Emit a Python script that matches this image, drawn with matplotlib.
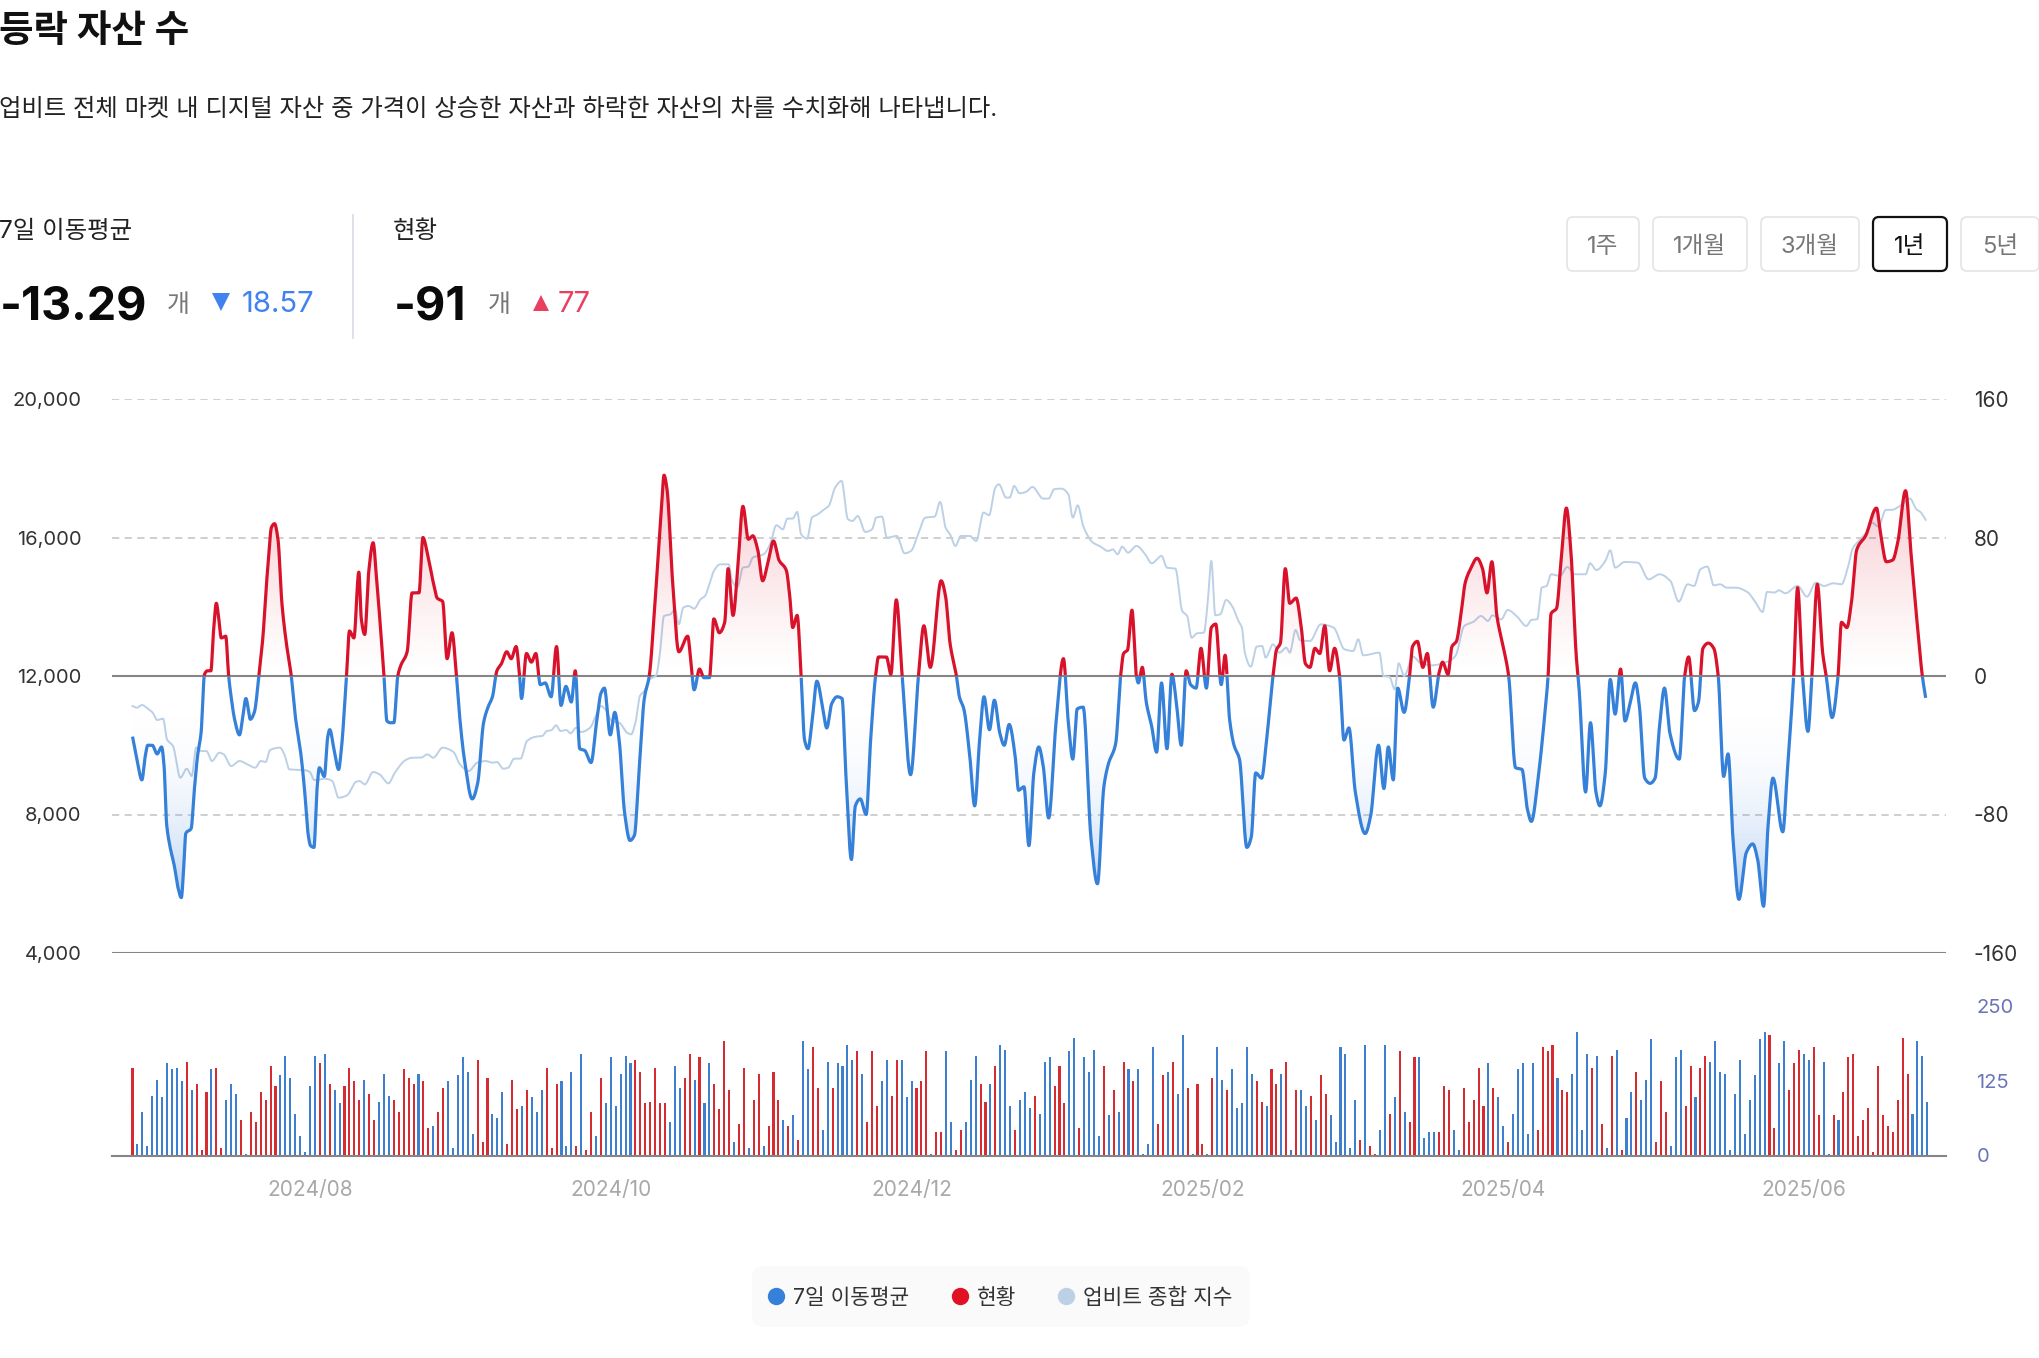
import numpy as np
import matplotlib
matplotlib.use('Agg')
import matplotlib.pyplot as plt
from matplotlib.patches import FancyBboxPatch

plt.rcParams['font.family'] = ['Inter', 'Noto Sans CJK KR', 'DejaVu Sans']
plt.rcParams['axes.unicode_minus'] = False

# daily value of the "현황" bars, sign decides the colour
daily_values = [
    147, -20, -73, -16, -100, -127, -97, -154, -144, -147, -124, 157, -110, 120, 10, 107, -144, 147, 13, -93,
    -120, -103, 60, -3, 73, 56, 107, 93, 150, 117, -134, -167, -130, -70, -33, -6, -117, -167, 154, -170,
    120, -110, -87, 117, 147, 124, 93, -127, 103, 60, -90, -137, -100, 93, 73, 144, 130, 120, -137, 124,
    46, -50, 73, 113, -124, -13, -134, -164, -140, -36, 160, 23, 130, -70, -63, -107, 20, 127, 77, -83,
    110, -97, -73, -110, 147, 13, 120, -124, -16, -140, 16, -170, 10, 73, -33, 130, -87, -164, -83, -137,
    -167, -154, 160, 140, 87, 90, 147, 87, 87, -56, -150, -113, 130, 170, -127, 164, -87, -154, 120, 77,
    191, 110, -23, 53, 147, -13, 93, 137, -16, 50, 140, 93,
    -60, 50, -67, 26, -191, -144, 181, 113, -43, -157, 113, -154, -150, -184, -160, 174, -137, 56, 174, 83,
    -124, -160, 100, 160, -160, -97, -124, 113, 124, 174, -3, 40, 40, -174, -56, 10, 43, -56, -127, -167,
    120, 90, -120, 150, -184, -177, -83, 43, -93, -107, -80, 100, -70, -157, -164, 117, 150, 87, -174, -197,
    46, -164, -140, -177, -33, 150, -67, 110, -73, 157, -144, 124, -144, -3, -20, -181, 53, 134, -140, 157,
    -103, -201, 113, -3, 120, 20, -3, 130, -181, -127, 110, -144, -80, -87, -181, -137, 124, 90, -83, 144,
    120, -137, 157, -10, 110, -110, -83, 100, -60, 134, 103, -67, -23, -181, -170, -13, -93, 26, -184, 16,
    3, -43, -184, 70, -97, 174, -73, 56, 164, -164, -30, -40, -40, 40, 117, 110,
    -43, -10, 113, 56, 93, 147, 83, -154, 113, -97, -50, 23, -70, -144, -154, -36, -154, 43, 181, 174,
    184, -130, 110, 107, -137, -207, -43, -170, 147, -167, 53, -13, 167, -177, 10, -63, -107, 140, -93, -127,
    -194, 23, 124, 73, -16, -164, -177, 83, 150, -97, 147, 167, -157, -191, -140, -137, -10, -103, -160, -36,
    -93, -134, -194, -207, 201, 46, -154, -191, 110, 154, 177, -170, -160, 181, 67, -157, -3, 67, -60, 107,
    164, 170, 33, 60, 80, 6, 150, 67, 50, 40, 93, 197, 137, -70, -191, -167, -90,
]

# 7 day moving average, read at the turning points of the curve
ma_days = [
    0, .9, 1.9, 2.6, 3.1, 4, 5, 5.9, 6.4, 6.9, 7.5, 8.5, 9.2, 9.9, 10.4, 10.8, 11.9, 12.5, 13.2, 13.9,
    14.6, 15.2, 15.9, 16.4, 17, 17.5, 18, 18.9, 19.5, 20, 20.7, 21.7, 22.3, 23, 23.9, 24.7, 25.7, 26.4, 27.3, 28.2,
    28.8, 29.5, 30.3, 31.2, 32.2, 33, 34.1, 34.9, 35.6, 36.1, 36.8, 37.4, 37.9, 38.9, 39.6, 40, 40.9, 41.8, 42.3, 43.4,
    44, 44.9, 45.9, 46.4, 47.1, 47.9, 48.8, 49.5, 51, 51.6, 52.3, 53, 53.8, 54.4, 55.7, 56.7, 58.1, 58.9, 59.8, 61,
    61.8, 62.9, 63.8, 64.8, 65.7, 66.4, 67.3, 68.9, 70, 71.2, 72.1, 73, 73.9, 74.8, 75.9, 76.8, 77.8, 78.5, 78.9, 79.9,
    80.9, 81.8, 82.7, 83.7, 84.9, 86, 86.9, 87.9, 89, 89.8, 90.7, 91.7, 93, 94.1, 95, 95.7, 96.9, 97.8, 98.7, 99.8,
    100.9, 101.8, 102.7, 103.8, 104.8, 106, 107.3, 107.8, 108.4, 109.5, 110.8, 112.6, 113.2, 113.9, 115, 115.9, 117, 117.9, 119, 120.1,
    120.8, 121.8, 122.7, 123.8, 124.9, 125.8, 126.8, 127.8, 128.9, 130, 131.1, 132.6, 133.3, 133.9, 134.8, 135.6, 136.3, 137, 137.8, 138.8,
    139.9, 140.8, 141.8, 142.9, 143.9, 144.7, 145.8, 146.6, 147.6, 148.8, 149.7, 150.7, 151.3, 152.9, 153.8, 154.9, 156.1, 157.8, 159.4, 160.5,
    161.8, 164, 164.9, 165.8, 167.1, 167.7, 168.6, 169.8, 170.8, 171.8, 172.7, 173.8, 174.8, 175.9, 176.8, 177.8, 179, 179.7, 180.8, 181.8,
    182.8, 183.8, 184.7, 185.8, 187.3, 188.8, 189.8, 190.7, 191.6, 192.8, 194.4, 195.7, 197, 197.9, 199.4, 200.4, 201, 201.8, 202.7, 203.6,
    204, 204.8, 205.6, 206.7, 207.7, 208.7, 209.8, 210.8, 211.7, 212.7, 213.7, 214.6, 215.7, 216.7, 217.8, 218.8, 219.7, 220.8, 221.6, 222.5,
    223.4, 224.5, 226, 226.9, 227.8, 229, 230, 231.3, 232, 232.8, 233.8, 234.7, 236, 237, 237.9, 238.8, 239.8, 240.8, 241.8, 242.8,
    243.8, 244.8, 245.7, 246.7, 248, 250, 251.1, 252.7, 253.8, 254.7, 255.7, 256.6, 257.9, 259, 259.6, 260.6, 261.7, 262.6, 263.8, 265,
    265.7, 266.8, 267.6, 268.5, 269.4, 270.3, 271.4, 272.7, 273.8, 274.7, 275.7, 276.7, 278, 279.1, 280.5, 281.8, 282.9, 283.7, 285.2, 286.4,
    287.1, 287.7, 288.8, 289.8, 290.8, 291.7, 292.8, 293.4, 294.7, 295.7, 296.8, 297.6, 298.7, 299.7, 300.7, 301.8, 302.7, 303.7, 304.8, 305.6,
    306.7, 307.8, 308.8, 309.7, 310.7, 311.8, 313.7, 314.8, 315.6, 316.8, 317.6, 318.5, 319.6, 320.7, 321.6, 322.7, 323.6, 324.6, 325.8, 327.3,
    328.6, 329.6, 330.8, 331.7, 332.7, 334.7, 335.6, 336.9, 337.7, 338.7, 339.8, 340.6, 341.7, 342.8, 343.5, 344.7, 345.9, 346.6, 347.7, 348.6,
    349.7, 351.5, 353.7, 354.5, 355.7, 357, 358, 359.6, 360.7, 362, 363, 363.7,
]
ma_values = [
    -35, -48, -60, -46, -40, -40, -45, -41, -52, -85, -97, -110, -122, -128, -110, -91, -88, -67, -46, -33,
    1, 3, 3, 25, 42, 33, 22, 23, 0, -12, -25, -34, -25, -13, -25, -21, 2, 21, 58, 86,
    88, 79, 42, 19, 0, -23, -44, -66, -91, -98, -99, -66, -53, -58, -35, -31, -43, -54, -44, 0,
    26, 22, 60, 33, 24, 60, 77, 56, 0, -26, -27, -27, 0, 6, 14, 48, 48, 80, 71, 54,
    45, 43, 10, 25, 0, -25, -48, -71, -62, -27, -18, -12, 3, 7, 14, 10, 17, 0, -13, 13,
    8, 13, -5, -4, -12, 17, -17, -6, -15, 3, -42, -43, -50, -27, -10, -7, -34, -21, -37, -79,
    -95, -92, -56, -13, 0, 44, 98, 116, 108, 56, 14, 23, 10, -8, 4, -1, -1, 33, 25, 31,
    62, 35, 60, 98, 79, 81, 73, 55, 66, 78, 67, 61, 46, 28, 35, 0, -37, -42, -27, -3,
    -17, -30, -16, -12, -13, -58, -106, -75, -71, -80, -37, 0, 11, 11, 1, 44, 0, -57, 0, 29,
    5, 55, 46, 19, 0, -12, -19, -46, -75, -37, -12, -31, -14, -33, -40, -28, -46, -66, -64, -98,
    -56, -41, -52, -82, -27, 10, -27, -48, -19, -18, -94, -120, -64, -51, -39, 0, 13, 15, 38, 0,
    -4, 5, -15, -29, -44, -4, -42, 1, -15, -40, 3, -5, -7, 16, -7, 28, 30, -5, 12, -25,
    -40, -48, -99, -93, -56, -59, -37, 0, 15, 19, 62, 42, 45, 29, 7, 5, 16, 13, 29, 3,
    16, 0, -37, -30, -67, -91, -81, -40, -65, -41, -60, -7, -21, 0, 17, 20, 5, 13, -18, 2,
    8, 1, 17, 20, 35, 54, 62, 68, 62, 48, 66, 35, 17, 0, -53, -54, -77, -84, -56, -23,
    0, 36, 39, 69, 97, 73, 12, -8, -67, -27, -67, -75, -56, -2, -22, 4, -26, -16, -4, -17,
    -59, -62, -59, -29, -7, -33, -48, 0, 11, -20, -15, 16, 19, 16, 0, -58, -45, -94, -129, -102,
    -97, -106, -133, -87, -59, -90, -56, 0, 51, 0, -32, 0, 53, 13, 0, -24, 0, 31, 28, 42,
    73, 81, 97, 83, 66, 67, 77, 107, 71, 29, 0, -13,
]

# 업비트 종합 지수
index_days = [
    0, .9, 1.9, 3.1, 4.1, 5, 6.2, 7, 8.2, 9.7, 11, 12, 12.9, 13.9, 15, 16.1, 17.6, 18.5, 20, 21.7,
    23.3, 24.9, 26, 27, 27.9, 29.9, 30.8, 31.8, 34.7, 35.9, 36.9, 39.1, 40.5, 41.8, 43.5, 45.3, 46, 47.1, 48.8, 50.1,
    51.9, 53.2, 55.4, 56.7, 58.5, 59.8, 61, 62.9, 65.1, 66.4, 68.2, 69.9, 71.7, 73, 73.9, 75.2, 76.2, 77.4, 78.7, 80,
    81.8, 83.1, 84, 84.9, 85.9, 86.8, 88, 88.8, 90, 91, 92.8, 94.1, 95, 95.9, 97.2, 98.7, 100.3, 101.1, 102, 102.9,
    103.8, 104.9, 106.2, 106.9, 107.8, 109.1, 110, 110.8, 111.7, 112.8, 113.9, 115.2, 116.1, 117, 117.9, 119.2, 120.9, 121.6, 122.7, 123.8,
    124.9, 125.8, 128, 129.3, 130.6, 131.9, 132.8, 133.9, 134.8, 135.6, 136.8, 137.8, 139, 140.3, 141.2, 142.5, 143.8, 145.1, 146, 147.1,
    148.6, 150, 150.8, 152, 153, 155, 156.6, 157.9, 159.2, 160.8, 162.7, 163.8, 164.9, 165.8, 166.9, 168, 169.8, 171.1, 172.6, 173.7,
    175, 175.7, 177.2, 177.9, 178.8, 179.9, 181.2, 182.5, 184.7, 185.8, 186.9, 188.4, 189.8, 190.7, 191.7, 192.8, 194.8, 196.1, 197.9, 198.8,
    199.8, 200.7, 201.9, 203.6, 205.4, 206.7, 208.7, 209.8, 211.5, 212.9, 213.9, 214.8, 215.9, 217.3, 218, 218.8, 219.6, 220.6, 221.8, 223,
    224.3, 225, 225.6, 226.8, 228, 229.1, 229.8, 231.3, 232.6, 234, 234.7, 235.9, 236.8, 238.8, 241, 243.6, 245.8, 247.6, 248.6, 249.6,
    252.9, 253.7, 254.9, 256, 256.8, 257.9, 259.7, 261.3, 263.5, 267, 268.3, 270.1, 271.9, 273.5, 274.9, 275.8, 277.6, 278.9, 280.7, 282.7,
    283.7, 284.9, 285.8, 286.8, 287.7, 289.5, 291, 292.5, 294.7, 295.6, 296.9, 298.7, 299.7, 300.7, 302.6, 305.3, 307.5, 309.7, 311.9, 313.6,
    315.4, 316.7, 318, 319.4, 320.7, 322, 323.3, 325.1, 327.5, 329, 330.6, 331.5, 333, 333.9, 335.2, 337.7, 339.6, 341.4, 343.1, 344.9,
    346.6, 347.9, 348.8, 350.1, 351.9, 352.8, 354.1, 355.6, 356.7, 358.5, 360.5, 361.8, 362.6, 363.7,
]
index_values = [
    11133, 11085, 11162, 11056, 10940, 10730, 10768, 10170, 9978, 9063, 9323, 9111, 9930, 9833, 9833, 9544, 9785, 9737, 9400, 9544,
    9448, 9352, 9544, 9516, 9862, 9930, 9737, 9304, 9284, 9236, 8995, 9034, 8967, 8485, 8552, 8938, 8967, 8870, 9227, 9159,
    8899, 9207, 9573, 9640, 9640, 9737, 9640, 9930, 9804, 9448, 9256, 9496, 9544, 9496, 9516, 9323, 9352, 9612, 9612, 10122,
    10247, 10267, 10411, 10430, 10575, 10411, 10440, 10344, 10507, 10382, 10507, 10893, 11133, 11037, 10700, 10652, 10363, 10315, 10652, 11422,
    11567, 11904, 12019, 12578, 13733, 13781, 13926, 13493, 13974, 14022, 13945, 14215, 14311, 14648, 15033, 15226, 15226, 14745, 14571, 15130,
    15159, 15419, 15515, 15804, 16353, 16237, 16545, 16545, 16738, 16093, 15968, 16574, 16671, 16815, 16911, 17441, 17633, 16526, 16478, 16622,
    16160, 16237, 16574, 16603, 15996, 16045, 15544, 15611, 16045, 16574, 16603, 17027, 16285, 16093, 15756, 16045, 16045, 15900, 16719, 16642,
    17441, 17537, 17152, 17152, 17489, 17277, 17316, 17460, 17123, 17123, 17393, 17412, 17248, 16574, 16930, 16334, 15852, 15756, 15611, 15659,
    15515, 15736, 15563, 15756, 15515, 15255, 15467, 15130, 15101, 13878, 13733, 13107, 13233, 13252, 14022, 15322, 13753, 13781, 14196, 14022,
    13589, 13396, 12674, 12270, 12847, 12867, 12530, 12915, 12674, 12819, 12674, 13329, 13030, 13011, 13493, 13396, 12770, 12722, 13059, 12597,
    12674, 12000, 11981, 11615, 12366, 12000, 12559, 12366, 12308, 12433, 12578, 13445, 13560, 13733, 13589, 13753, 13637, 13907, 13733, 13445,
    13618, 13637, 14552, 14600, 14937, 14889, 15149, 14937, 14937, 15255, 15062, 15322, 15630, 15130, 15293, 15274, 14793, 14937, 14745, 14147,
    14648, 14600, 15082, 15159, 14619, 14648, 14552, 14552, 14427, 14167, 13849, 14427, 14408, 14475, 14388, 14600, 14292, 14696, 14600, 14677,
    14648, 15130, 15659, 15900, 16189, 16430, 16314, 16796, 16796, 16911, 17123, 16815, 16738, 16507,
]

left_ticks = [4000, 8000, 12000, 16000, 20000]
right_ticks = [-160, -80, 0, 80, 160]
bar_ticks = [0, 125, 250]
date_days = [36, 97, 158, 217, 278, 339]
date_labels = ['2024/08', '2024/10', '2024/12', '2025/02', '2025/04', '2025/06']
ranges = ['1주', '1개월', '3개월', '1년', '5년']
legend_labels = ['7일 이동평균', '현황', '업비트 종합 지수']

BLUE, RED, PALE = '#3580d8', '#d9122b', '#bcd0e6'
W, H = 2040, 1358


def smooth(days, values, step=0.02):
    # monotone cubic so the peaks come out round, like the spline in the page
    x = np.asarray(days, float)
    y = np.asarray(values, float)
    h = np.diff(x)
    s = np.diff(y) / h
    m = np.zeros_like(y)
    same = s[:-1] * s[1:] > 0
    w1 = 2 * h[1:] + h[:-1]
    w2 = h[1:] + 2 * h[:-1]
    m[1:-1][same] = (w1 + w2)[same] / (w1[same] / s[:-1][same] + w2[same] / s[1:][same])
    m[0], m[-1] = s[0], s[-1]
    t = np.arange(x[0], x[-1], step)
    i = np.clip(np.searchsorted(x, t, side='right') - 1, 0, len(h) - 1)
    c = (3 * s[i] - 2 * m[i] - m[i + 1]) / h[i]
    d = (m[i] + m[i + 1] - 2 * s[i]) / h[i] ** 2
    dt = t - x[i]
    return t, y[i] + m[i] * dt + c * dt ** 2 + d * dt ** 3


def px_axes(left, top, right, bottom):
    return fig.add_axes([left / W, 1 - bottom / H, (right - left) / W, (bottom - top) / H])


fig = plt.figure(figsize=(W / 100, H / 100), dpi=100)

# page layer in pixel coordinates for the header, buttons and legend
page = fig.add_axes([0, 0, 1, 1], zorder=-1)
page.set_xlim(0, W)
page.set_ylim(H, 0)
page.axis('off')

page.text(-1, 32, '등락 자산 수', fontsize=27, fontweight='bold', color='#111111', va='center')
page.text(-1, 109, '업비트 전체 마켓 내 디지털 자산 중 가격이 상승한 자산과 하락한 자산의 차를 수치화해 나타냅니다.',
          fontsize=17.5, color='#222222', va='center')

page.text(-1, 232, '7일 이동평균', fontsize=17.6, color='#222222', va='center')
page.text(393, 232, '현황', fontsize=17.6, color='#222222', va='center')
page.plot([353, 353], [215, 338], color='#dfe0ea', lw=1.4)

page.text(0, 308, '-13.29', fontsize=33.6, fontweight='bold', color='#0a0a0a', va='center')
page.text(167, 306, '개', fontsize=18, color='#777777', va='center')
page.plot([221], [302], marker='v', ms=13, color='#3f82f0', mew=0)
page.text(242, 304, '18.57', fontsize=21, color='#3f82f0', va='center')

page.text(394, 308, '-91', fontsize=33.6, fontweight='bold', color='#0a0a0a', va='center')
page.text(488, 306, '개', fontsize=18, color='#777777', va='center')
page.plot([541], [303], marker='^', ms=11, color='#e8405e', mew=0)
page.text(558, 304, '77', fontsize=21, color='#e8405e', va='center')

btn_edges = [(1567, 1639), (1653, 1747), (1761, 1859), (1873, 1947), (1961, 2039)]
for (x0, x1), label in zip(btn_edges, ranges):
    on = label == '1년'
    page.add_patch(FancyBboxPatch((x0 + 5, 222), x1 - x0 - 10, 44, boxstyle='round,pad=5,rounding_size=6',
                                  fc='white', ec='#111111' if on else '#e6e6e6', lw=1.6 if on else 1.3))
    page.text((x0 + x1) / 2, 247, label, fontsize=17, color='#111111' if on else '#777777',
              ha='center', va='center')

page.add_patch(FancyBboxPatch((764, 1278), 474, 37, boxstyle='round,pad=12,rounding_size=12',
                              fc='#fafafa', ec='none'))
for mx, tx, c, label in zip([776, 960, 1066], [793, 977, 1083], [BLUE, '#e01025', PALE], legend_labels):
    page.plot([mx], [1296], 'o', ms=12.5, color=c, mew=0)
    page.text(tx, 1298, label, fontsize=15.4, color='#333333', va='center')

# main chart
day_min, day_max = -4.16, 367.8
ax = px_axes(112, 399, 1946, 953)
ax.set_xlim(day_min, day_max)
ax.set_ylim(4000, 20000)
ax.patch.set_alpha(0)
for s in ax.spines.values():
    s.set_visible(False)
ax.set_yticks(left_ticks)
ax.set_yticklabels([f'{v:,}' for v in left_ticks])
ax.tick_params(axis='y', length=0, pad=22, labelsize=14.5, labelcolor='#333333')
ax.set_xticks([])
for v in left_ticks:
    if v in (4000, 12000):
        ax.axhline(v, color='#858585', lw=1.5, zorder=1)
    else:
        ax.axhline(v, color='#cccccc', lw=1.3, ls=(0, (4, 3)), zorder=1)

t_idx, v_idx = smooth(index_days, index_values)
ax.plot(t_idx, v_idx, color=PALE, lw=1.4, zorder=2)

axr = ax.twinx()
axr.set_ylim(-160, 160)
axr.patch.set_alpha(0)
for s in axr.spines.values():
    s.set_visible(False)
axr.set_yticks(right_ticks)
axr.tick_params(axis='y', length=0, pad=20, labelsize=15, labelcolor='#333333')

t_ma, v_ma = smooth(ma_days, ma_values)

# gradient under the curve, stronger the further from zero
lev = np.linspace(-160, 160, 641)
shade = np.zeros((lev.size, 1, 4))
up = lev > 0
shade[up, 0, :3] = matplotlib.colors.to_rgb('#d9122b')
shade[up, 0, 3] = np.minimum(0.22 * (lev[up] / 110) ** 1.2, 0.3)
shade[~up, 0, :3] = matplotlib.colors.to_rgb('#2f7be0')
shade[~up, 0, 3] = np.minimum(0.36 * (-lev[~up] / 130) ** 2.6, 0.45)
for clipped in (np.maximum(v_ma, 0), np.minimum(v_ma, 0)):
    poly = axr.fill_between(t_ma, 0, clipped, facecolor='none', edgecolor='none')
    im = axr.imshow(shade, origin='lower', aspect='auto', extent=(day_min, day_max, -160, 160), zorder=2)
    im.set_clip_path(poly.get_paths()[0], axr.transData)
axr.set_xlim(day_min, day_max)
axr.set_ylim(-160, 160)

axr.plot(t_ma, np.ma.masked_where(v_ma < 0, v_ma), color=RED, lw=2.3, zorder=3, solid_capstyle='butt')
axr.plot(t_ma, np.ma.masked_where(v_ma >= 0, v_ma), color=BLUE, lw=2.3, zorder=3, solid_capstyle='butt')

# daily bars
axb = px_axes(112, 1006, 1946, 1155.5)
axb.set_xlim(day_min, day_max)
axb.set_ylim(0, 250)
axb.patch.set_alpha(0)
for name, s in axb.spines.items():
    s.set_visible(name == 'bottom')
axb.spines['bottom'].set_color('#858585')
axb.spines['bottom'].set_linewidth(1.5)
days = np.arange(len(daily_values))
vals = np.array(daily_values)
axb.bar(days, np.abs(vals), width=0.42, color=np.where(vals < 0, '#3f7fcf', '#d62b30'))
axb.set_xticks(date_days)
axb.set_xticklabels(date_labels)
axb.tick_params(axis='x', length=0, pad=18, labelsize=15, labelcolor='#a8a8a8')
axb.yaxis.tick_right()
axb.set_yticks(bar_ticks)
axb.tick_params(axis='y', length=0, pad=22, labelsize=14.5, labelcolor='#6a74b8')

fig.savefig('out.png', dpi=100)
